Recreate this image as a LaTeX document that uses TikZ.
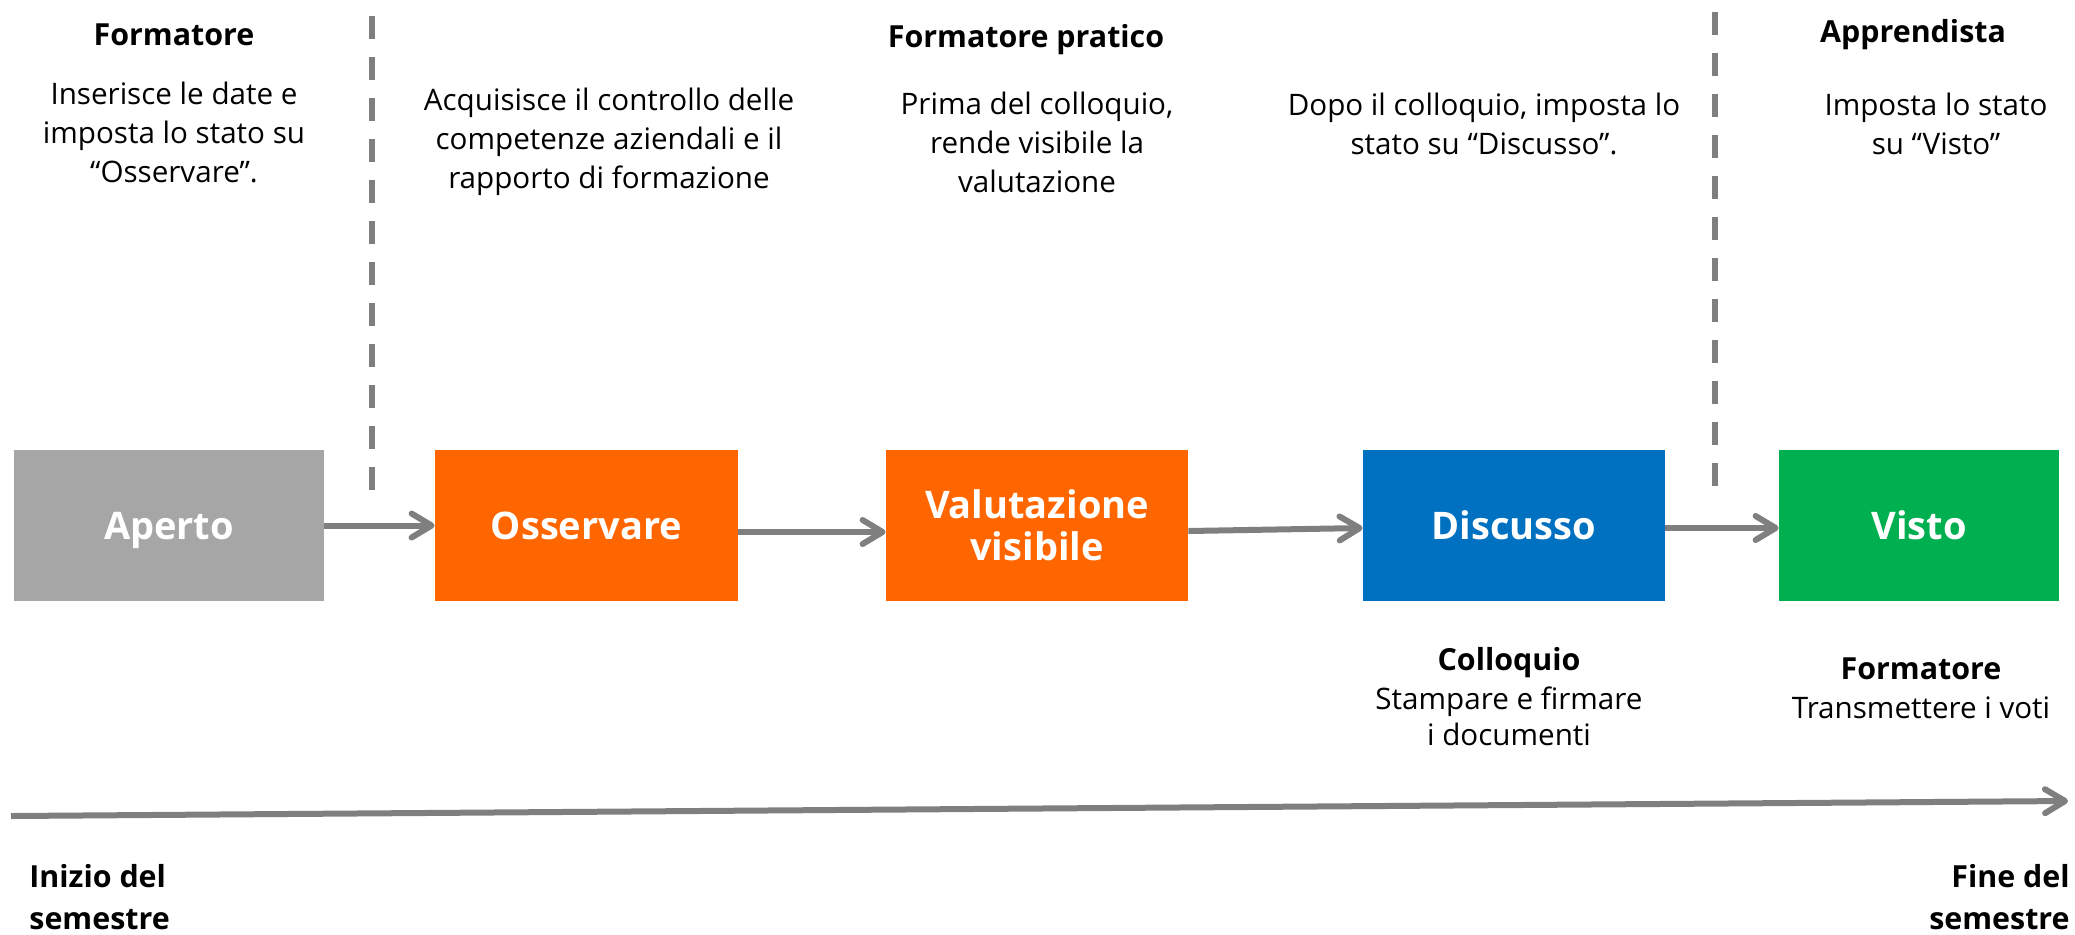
\documentclass[tikz,border=0pt]{standalone}
\usepackage{fontspec}
\setmainfont{Open Sans}
\usetikzlibrary{arrows.meta}
\definecolor{cgray}{HTML}{A6A6A6}
\definecolor{corange}{HTML}{FF6600}
\definecolor{cblue}{HTML}{0070C0}
\definecolor{cgreen}{HTML}{00B050}
\definecolor{cline}{HTML}{7F7F7F}
\begin{document}
\begin{tikzpicture}[x=0.5pt,y=-0.5pt,
  statebox/.style={minimum height=75.5pt, inner sep=0pt, text=white,
    font=\fontsize{19}{21}\selectfont\bfseries, align=center},
  hdr/.style={font=\fontsize{15.2}{21}\selectfont\bfseries, inner sep=0pt},
  body/.style={font=\fontsize{14.8}{19.5}\selectfont, align=center, inner sep=0pt},
  flow/.style={draw=cline, line width=3pt, -{Straight Barb[length=10pt,width=12pt,round]}},
  sep/.style={draw=cline, line width=2.8pt, dash pattern=on 11.5pt off 9pt},
]
\useasboundingbox (0,0) rectangle (2075,934);

% state boxes
\node[statebox, fill=cgray, minimum width=155pt, text depth=0pt] (aperto) at (169,525.5) {Aperto};
\node[statebox, fill=corange, minimum width=151.5pt] (osservare) at (586.5,525.5) {Osservare};
\node[statebox, fill=corange, minimum width=151pt] (valut) at (1037,525.5) {Valutazione\\visibile};
\node[statebox, fill=cblue, minimum width=151pt] (discusso) at (1514,525.5) {Discusso};
\node[statebox, fill=cgreen, minimum width=140pt] (visto) at (1919,525.5) {Visto};

% flow arrows
\draw[flow] (aperto.east) -- (osservare.west);
\draw[flow] ([yshift=-3.25pt]osservare.east) -- ([yshift=-3.25pt]valut.west);
\draw[flow] ([yshift=-2.75pt]valut.east) -- ([yshift=-1.25pt]discusso.west);
\draw[flow] ([yshift=-1.25pt]discusso.east) -- ([yshift=-1.25pt]visto.west);

% dashed separators
\coordinate (d1top) at (372,16);
\coordinate (d1bot) at (372,503);
\coordinate (d2top) at (1715,12);
\coordinate (d2bot) at (1715,500);
\draw[sep] (d1top) -- (d1bot);
\draw[sep] (d2top) -- (d2bot);

% timeline
\coordinate (tlstart) at (11,816);
\coordinate (tlend) at (2068,801);
\draw[flow] (tlstart) -- (tlend);

% top texts
\node[hdr] (h1) at (174,35) {Formatore};
\node[body] (t1) at (174,132) {Inserisce le date e\\imposta lo stato su\\“Osservare”.};
\node[body] (t2) at (609,142) {Acquisisce il controllo delle\\competenze aziendali e il\\rapporto di formazione};
\node[hdr] (h3) at (1026,40) {Formatore pratico};
\node[body] (t3) at (1037,142) {Prima del colloquio,\\rende visibile la\\valutazione};
\node[body] (t4) at (1484,124) {Dopo il colloquio, imposta lo\\stato su “Discusso”.};
\node[hdr] (h5) at (1913,35) {Apprendista};
\node[body] (t5) at (1936,124) {Imposta lo stato\\su “Visto”};

% bottom texts
\node[hdr] (h6) at (1509,663) {Colloquio};
\node[body, font=\fontsize{14.8}{17.8}\selectfont] (t6) at (1509,716) {Stampare e firmare\\i documenti};
\node[hdr] (h7) at (1921,669) {Formatore};
\node[body] (t7) at (1921,708) {Transmettere i voti};
\node[hdr, align=left, anchor=west] (s1) at (29,897.5) {Inizio del\\semestre};
\node[hdr, align=right, anchor=east] (s2) at (2070,897.5) {Fine del\\semestre};
\end{tikzpicture}
\end{document}
